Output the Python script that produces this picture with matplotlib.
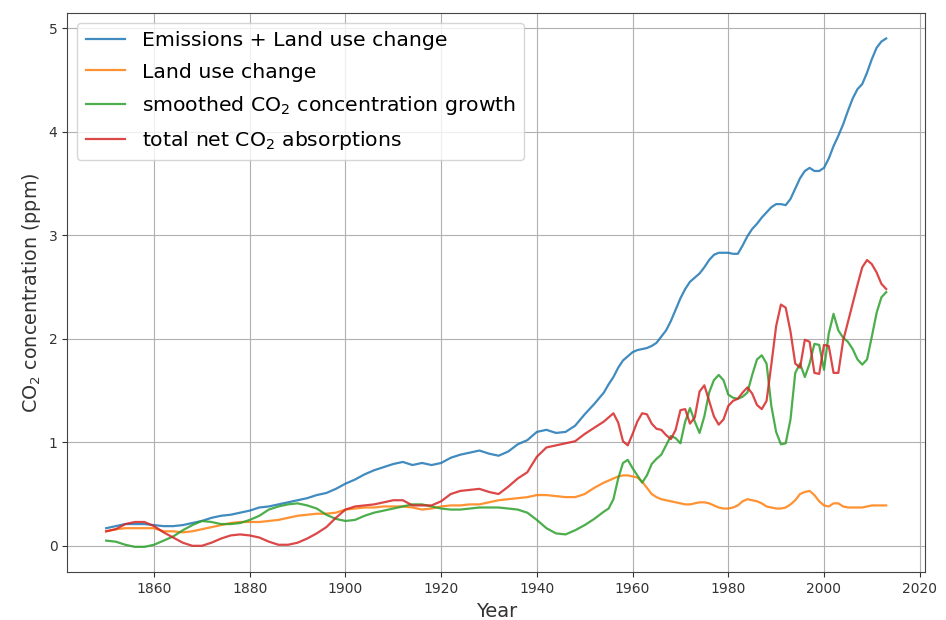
import numpy as np
import matplotlib
matplotlib.use("Agg")
import matplotlib.pyplot as plt

# Years: two-year steps up to 1954, then annual values
years = list(range(1850, 1955, 2)) + list(range(1955, 2014))

emissions_luc = [
    0.17, 0.19, 0.21, 0.21, 0.21, 0.20, 0.19, 0.19, 0.20, 0.22,
    0.24, 0.27, 0.29, 0.30, 0.32, 0.34, 0.37, 0.38, 0.40, 0.42,
    0.44, 0.46, 0.49, 0.51, 0.55, 0.60, 0.64, 0.69, 0.73, 0.76,
    0.79, 0.81, 0.78, 0.80, 0.78, 0.80, 0.85, 0.88, 0.90, 0.92,
    0.89, 0.87, 0.91, 0.98, 1.02, 1.10, 1.12, 1.09, 1.10, 1.16,
    1.27, 1.37, 1.48,
    1.56, 1.63, 1.72, 1.79, 1.83, 1.87, 1.89, 1.90, 1.91, 1.93,
    1.96, 2.02, 2.08, 2.17, 2.28, 2.39, 2.48, 2.55, 2.59, 2.63,
    2.69, 2.76, 2.81, 2.83, 2.83, 2.83, 2.82, 2.82, 2.90, 2.99,
    3.06, 3.11, 3.17, 3.22, 3.27, 3.30, 3.30, 3.29, 3.35, 3.45,
    3.55, 3.62, 3.65, 3.62, 3.62, 3.65, 3.74, 3.86, 3.96, 4.07,
    4.20, 4.32, 4.41, 4.46, 4.57, 4.70, 4.81, 4.87, 4.90,
]

land_use_change = [
    0.14, 0.16, 0.17, 0.17, 0.17, 0.17, 0.14, 0.14, 0.13, 0.14,
    0.16, 0.18, 0.20, 0.22, 0.23, 0.23, 0.23, 0.24, 0.25, 0.27,
    0.29, 0.30, 0.31, 0.31, 0.32, 0.35, 0.36, 0.37, 0.37, 0.38,
    0.38, 0.38, 0.37, 0.35, 0.36, 0.38, 0.39, 0.39, 0.40, 0.40,
    0.42, 0.44, 0.45, 0.46, 0.47, 0.49, 0.49, 0.48, 0.47, 0.47,
    0.50, 0.56, 0.61,
    0.63, 0.65, 0.67, 0.68, 0.68, 0.67, 0.66, 0.62, 0.56, 0.50,
    0.47, 0.45, 0.44, 0.43, 0.42, 0.41, 0.40, 0.40, 0.41, 0.42,
    0.42, 0.41, 0.39, 0.37, 0.36, 0.36, 0.37, 0.39, 0.43, 0.45,
    0.44, 0.43, 0.41, 0.38, 0.37, 0.36, 0.36, 0.37, 0.40, 0.44,
    0.50, 0.52, 0.53, 0.49, 0.43, 0.39, 0.38, 0.41, 0.41, 0.38,
    0.37, 0.37, 0.37, 0.37, 0.38, 0.39, 0.39, 0.39, 0.39,
]

co2_growth_smoothed = [
    0.05, 0.04, 0.01, -0.01, -0.01, 0.01, 0.05, 0.09, 0.15, 0.20,
    0.24, 0.23, 0.21, 0.21, 0.22, 0.25, 0.29, 0.35, 0.38, 0.40,
    0.41, 0.39, 0.36, 0.30, 0.26, 0.24, 0.25, 0.29, 0.32, 0.34,
    0.36, 0.38, 0.40, 0.40, 0.38, 0.36, 0.35, 0.35, 0.36, 0.37,
    0.37, 0.37, 0.36, 0.35, 0.32, 0.25, 0.17, 0.12, 0.11, 0.15,
    0.20, 0.26, 0.33,
    0.36, 0.45, 0.65, 0.80, 0.83, 0.75, 0.68, 0.61, 0.68, 0.79,
    0.84, 0.88, 0.97, 1.06, 1.04, 0.99, 1.20, 1.33, 1.20, 1.09,
    1.25, 1.48, 1.60, 1.65, 1.60, 1.46, 1.43, 1.42, 1.44, 1.48,
    1.65, 1.80, 1.84, 1.76, 1.35, 1.10, 0.98, 0.99, 1.22, 1.67,
    1.76, 1.63, 1.76, 1.95, 1.94, 1.70, 2.05, 2.24, 2.08, 2.01,
    1.97, 1.90, 1.80, 1.75, 1.80, 2.02, 2.25, 2.40, 2.45,
]

net_absorptions = [
    0.14, 0.16, 0.21, 0.23, 0.23, 0.19, 0.13, 0.08, 0.03, 0.00,
    0.00, 0.03, 0.07, 0.10, 0.11, 0.10, 0.08, 0.04, 0.01, 0.01,
    0.03, 0.07, 0.12, 0.18, 0.27, 0.35, 0.38, 0.39, 0.40, 0.42,
    0.44, 0.44, 0.39, 0.39, 0.39, 0.43, 0.50, 0.53, 0.54, 0.55,
    0.52, 0.50, 0.57, 0.65, 0.71, 0.86, 0.95, 0.97, 0.99, 1.01,
    1.08, 1.14, 1.20,
    1.24, 1.28, 1.19, 1.01, 0.97, 1.08, 1.20, 1.28, 1.27, 1.18,
    1.13, 1.12, 1.07, 1.03, 1.12, 1.31, 1.32, 1.18, 1.24, 1.49,
    1.55, 1.40, 1.25, 1.17, 1.22, 1.35, 1.40, 1.42, 1.48, 1.53,
    1.47, 1.36, 1.32, 1.40, 1.75, 2.12, 2.33, 2.30, 2.07, 1.76,
    1.72, 1.99, 1.97, 1.67, 1.66, 1.94, 1.93, 1.67, 1.67, 1.98,
    2.16, 2.34, 2.52, 2.69, 2.76, 2.72, 2.64, 2.53, 2.48,
]

series_labels = [
    "Emissions + Land use change",
    "Land use change",
    "smoothed CO$_2$ concentration growth",
    "total net CO$_2$ absorptions",
]
series_values = [emissions_luc, land_use_change, co2_growth_smoothed, net_absorptions]
series_colors = ["tab:blue", "tab:orange", "tab:green", "tab:red"]

fig = plt.figure(figsize=(9.46, 6.20), dpi=100)
ax = fig.add_axes([0.071, 0.077, 0.907, 0.902])

for vals, lab, col in zip(series_values, series_labels, series_colors):
    ax.plot(years, vals, color=col, lw=1.6, alpha=0.85, label=lab)

ax.grid(True, color="#b0b0b0", lw=0.8)
ax.set_xticks([1860, 1880, 1900, 1920, 1940, 1960, 1980, 2000, 2020])
ax.set_yticks([0, 1, 2, 3, 4, 5])
ax.tick_params(labelsize=10, colors="#333333")
for s in ax.spines.values():
    s.set_color("#444444")

ax.set_xlabel("Year", fontsize=14, color="#333333")
ax.set_ylabel("CO$_2$ concentration (ppm)", fontsize=13.8, color="#333333")
ax.legend(loc="upper left", fontsize=14.7, labelspacing=0.6,
          handlelength=1.95, borderaxespad=0.5)

fig.savefig("out.png", dpi=100)
